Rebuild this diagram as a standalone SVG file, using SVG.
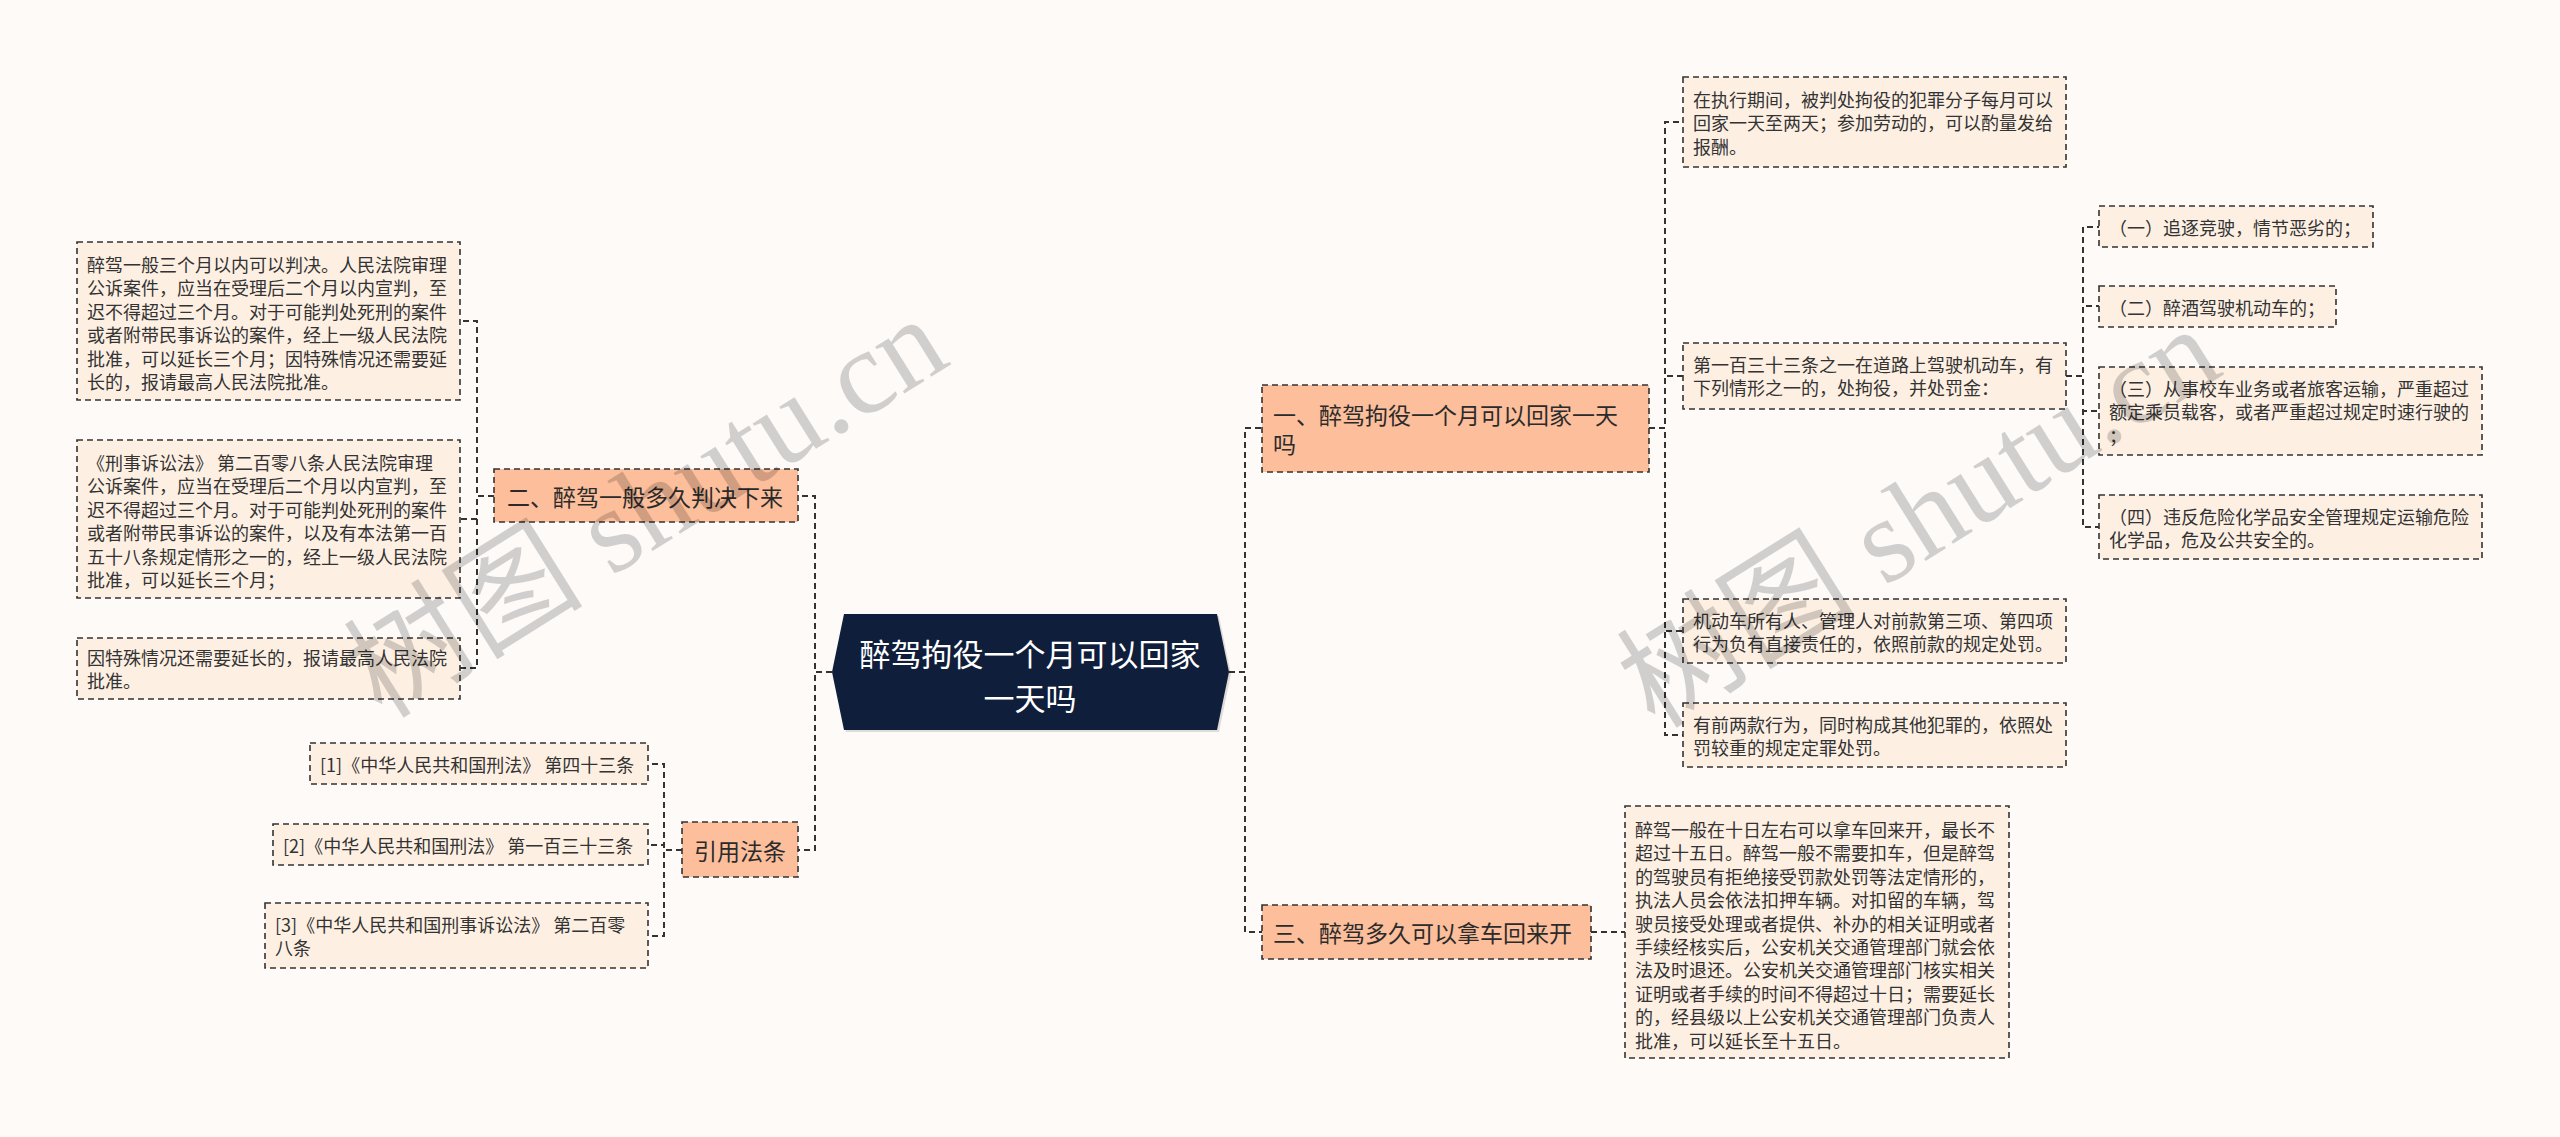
<svg xmlns="http://www.w3.org/2000/svg" width="2560" height="1137" viewBox="0 0 2560 1137">
<style>
text{font-family:"Noto Sans CJK SC","Noto Sans",sans-serif;dominant-baseline:central;fill:#333}
.leaf rect{fill:#fdf0e3;stroke:#333;stroke-width:1.6;stroke-dasharray:6 4}
.leaf text{font-size:18px}
.l1 rect{fill:#fcbe9b;stroke:#333;stroke-width:1.6;stroke-dasharray:6 4}
.l1 text{font-size:23px;fill:#2b2b2b}
#connectors path{fill:none;stroke:#333;stroke-width:2;stroke-dasharray:6 4}
.wm{font-family:"Liberation Serif","Noto Sans CJK SC",serif;font-size:120px;fill:#000;opacity:0.17;dominant-baseline:auto}
</style>
<rect width="2560" height="1137" fill="#fdfaf8"/>

<g id="connectors">
<path d="M832,672 H815 V496 H798"/>
<path d="M832,672 H815 V850 H798"/>
<path d="M494,496 H477 V321 H460"/>
<path d="M494,496 H477 V519 H460"/>
<path d="M494,496 H477 V668 H460"/>
<path d="M682,850 H664 V764 H648"/>
<path d="M682,850 H664 V845 H648"/>
<path d="M682,850 H664 V936 H648"/>
<path d="M1229,672 H1245 V428 H1262"/>
<path d="M1229,672 H1245 V932 H1262"/>
<path d="M1649,428 H1665 V122 H1683"/>
<path d="M1649,428 H1665 V376 H1683"/>
<path d="M1649,428 H1665 V631 H1683"/>
<path d="M1649,428 H1665 V735 H1683"/>
<path d="M2066,376 H2083 V227 H2099"/>
<path d="M2066,376 H2083 V306 H2099"/>
<path d="M2066,376 H2083 V411 H2099"/>
<path d="M2066,376 H2083 V527 H2099"/>
<path d="M1591,932 H1625"/>
</g>

<g id="root">
<polygon points="846,616 1219,616 1231,674 1219,732 846,732 834,674" fill="#000" opacity="0.12"/>
<polygon points="844,614 1217,614 1229,672 1217,730 844,730 832,672" fill="#0f1e3a"/>
<text x="1030" y="652" text-anchor="middle" style="font-size:31px;fill:#fff">醉驾拘役一个月可以回家</text>
<text x="1030" y="696" text-anchor="middle" style="font-size:31px;fill:#fff">一天吗</text>
</g>

<g id="n2" class="l1">
<rect x="494" y="469" width="304" height="53"/>
<text x="507" y="496">二、醉驾一般多久判决下来</text>
</g>
<g id="nref" class="l1">
<rect x="682" y="822" width="116" height="55"/>
<text x="740" y="850" text-anchor="middle">引用法条</text>
</g>
<g id="n1" class="l1">
<rect x="1262" y="385" width="387" height="87"/>
<text x="1273" y="414">一、醉驾拘役一个月可以回家一天</text>
<text x="1273" y="443">吗</text>
</g>
<g id="n3" class="l1">
<rect x="1262" y="905" width="329" height="54"/>
<text x="1273" y="932">三、醉驾多久可以拿车回来开</text>
</g>

<g id="a1" class="leaf">
<rect x="77" y="242" width="383" height="158"/>
<text x="87" y="264">醉驾一般三个月以内可以判决。人民法院审理</text>
<text x="87" y="287.4">公诉案件，应当在受理后二个月以内宣判，至</text>
<text x="87" y="310.8">迟不得超过三个月。对于可能判处死刑的案件</text>
<text x="87" y="334.2">或者附带民事诉讼的案件，经上一级人民法院</text>
<text x="87" y="357.6">批准，可以延长三个月；因特殊情况还需要延</text>
<text x="87" y="381">长的，报请最高人民法院批准。</text>
</g>
<g id="a2" class="leaf">
<rect x="77" y="440" width="383" height="158"/>
<text x="87" y="462">《刑事诉讼法》 第二百零八条人民法院审理</text>
<text x="87" y="485.4">公诉案件，应当在受理后二个月以内宣判，至</text>
<text x="87" y="508.8">迟不得超过三个月。对于可能判处死刑的案件</text>
<text x="87" y="532.2">或者附带民事诉讼的案件，以及有本法第一百</text>
<text x="87" y="555.6">五十八条规定情形之一的，经上一级人民法院</text>
<text x="87" y="579">批准，可以延长三个月；</text>
</g>
<g id="a3" class="leaf">
<rect x="77" y="638" width="383" height="61"/>
<text x="87" y="657">因特殊情况还需要延长的，报请最高人民法院</text>
<text x="87" y="680.4">批准。</text>
</g>

<g id="r1" class="leaf">
<rect x="310" y="743" width="338" height="41"/>
<text x="320" y="764">[1]《中华人民共和国刑法》 第四十三条</text>
</g>
<g id="r2" class="leaf">
<rect x="273" y="824" width="375" height="41"/>
<text x="283" y="845">[2]《中华人民共和国刑法》 第一百三十三条</text>
</g>
<g id="r3" class="leaf">
<rect x="265" y="903" width="383" height="65"/>
<text x="275" y="924">[3]《中华人民共和国刑事诉讼法》 第二百零</text>
<text x="275" y="947.4">八条</text>
</g>

<g id="b1" class="leaf">
<rect x="1683" y="77" width="383" height="90"/>
<text x="1693" y="99">在执行期间，被判处拘役的犯罪分子每月可以</text>
<text x="1693" y="122.4">回家一天至两天；参加劳动的，可以酌量发给</text>
<text x="1693" y="145.8">报酬。</text>
</g>
<g id="b2" class="leaf">
<rect x="1683" y="343" width="383" height="66"/>
<text x="1693" y="364">第一百三十三条之一在道路上驾驶机动车，有</text>
<text x="1693" y="387.4">下列情形之一的，处拘役，并处罚金：</text>
</g>
<g id="b3" class="leaf">
<rect x="1683" y="599" width="383" height="64"/>
<text x="1693" y="619.5">机动车所有人、管理人对前款第三项、第四项</text>
<text x="1693" y="642.9">行为负有直接责任的，依照前款的规定处罚。</text>
</g>
<g id="b4" class="leaf">
<rect x="1683" y="703" width="383" height="64"/>
<text x="1693" y="723.5">有前两款行为，同时构成其他犯罪的，依照处</text>
<text x="1693" y="746.9">罚较重的规定定罪处罚。</text>
</g>

<g id="s1" class="leaf">
<rect x="2099" y="206" width="274" height="41"/>
<text x="2109" y="226.5">（一）追逐竞驶，情节恶劣的；</text>
</g>
<g id="s2" class="leaf">
<rect x="2099" y="286" width="237" height="41"/>
<text x="2109" y="306.5">（二）醉酒驾驶机动车的；</text>
</g>
<g id="s3" class="leaf">
<rect x="2099" y="367" width="383" height="88"/>
<text x="2109" y="388">（三）从事校车业务或者旅客运输，严重超过</text>
<text x="2109" y="411.4">额定乘员载客，或者严重超过规定时速行驶的</text>
<text x="2109" y="434.8">；</text>
</g>
<g id="s4" class="leaf">
<rect x="2099" y="495" width="383" height="64"/>
<text x="2109" y="515.5">（四）违反危险化学品安全管理规定运输危险</text>
<text x="2109" y="538.9">化学品，危及公共安全的。</text>
</g>

<g id="c1" class="leaf">
<rect x="1625" y="806" width="384" height="252"/>
<text x="1635" y="829">醉驾一般在十日左右可以拿车回来开，最长不</text>
<text x="1635" y="852.4">超过十五日。醉驾一般不需要扣车，但是醉驾</text>
<text x="1635" y="875.8">的驾驶员有拒绝接受罚款处罚等法定情形的，</text>
<text x="1635" y="899.2">执法人员会依法扣押车辆。对扣留的车辆，驾</text>
<text x="1635" y="922.6">驶员接受处理或者提供、补办的相关证明或者</text>
<text x="1635" y="946">手续经核实后，公安机关交通管理部门就会依</text>
<text x="1635" y="969.4">法及时退还。公安机关交通管理部门核实相关</text>
<text x="1635" y="992.8">证明或者手续的时间不得超过十日；需要延长</text>
<text x="1635" y="1016.2">的，经县级以上公安机关交通管理部门负责人</text>
<text x="1635" y="1039.6">批准，可以延长至十五日。</text>
</g>

<text class="wm" transform="translate(382,720) rotate(-32)">树图 shutu.cn</text>
<text class="wm" transform="translate(1655,730) rotate(-32)">树图 shutu.cn</text>
</svg>
